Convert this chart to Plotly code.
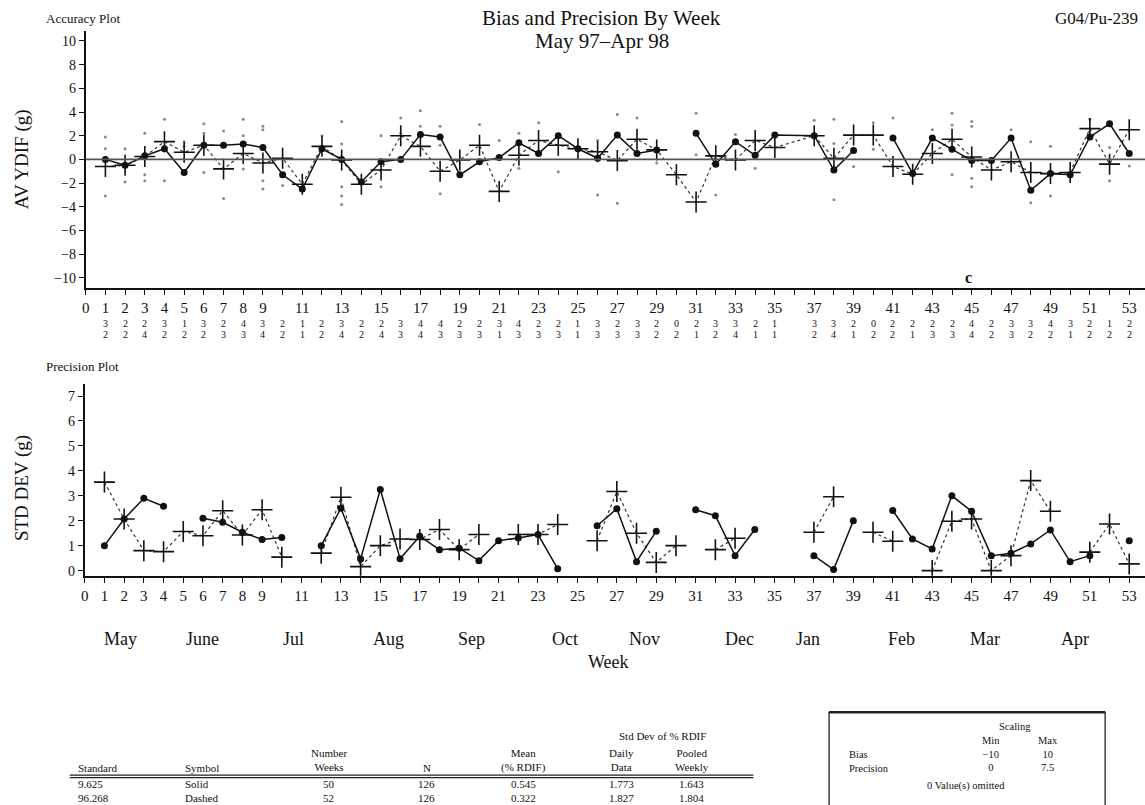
import plotly.graph_objects as go

# ---- data -------------------------------------------------------------
weeks = [w for w in range(1, 54) if w != 36]

bias_solid = [0.0, -0.5, 0.3, 0.9, -1.1, 1.2, 1.2, 1.3, 1.0, -1.3,
              -2.5, 0.9, 0.0, -1.9, -0.2, 0.0, 2.1, 1.9, -1.3, -0.2,
              0.15, 1.4, 0.5, 2.0, 0.9, 0.1, 2.05, 0.5, 0.8, None,
              2.2, -0.4, 1.5, 0.35, 2.05, 2.0, -0.9, 0.75, None, 1.8,
              -1.2, 1.8, 0.85, -0.1, -0.1, 1.8, -2.6, -1.2, -1.3, 1.9,
              3.0, 0.5]
bias_dashed = [-0.6, -0.5, 0.25, 1.5, 0.6, 1.2, -0.8, 0.5, -0.3, 0.1,
               -2.1, 1.1, -0.05, -2.1, -0.9, 2.0, 1.1, -1.0, -0.05, 1.2,
               -2.7, 0.35, 1.6, 1.2, 0.9, 0.65, -0.1, 1.7, 0.8, -1.3,
               -3.6, 0.3, -0.05, 1.6, 1.0, 2.0, 0.1, 2.05, 2.05, -0.6,
               -1.25, 0.5, 1.7, 0.2, -0.9, -0.2, -1.1, -1.2, -1.1, 2.6,
               -0.4, 2.5]

sd_solid = [1.0, 2.07, 2.9, 2.58, None, 2.1, 1.94, 1.54, 1.25, 1.33,
            None, 1.0, 2.5, 0.47, 3.25, 0.48, 1.38, 0.84, 0.9, 0.4,
            1.2, 1.31, 1.45, 0.07, None, 1.8, 2.48, 0.36, 1.58, None,
            2.44, 2.2, 0.6, 1.65, None, 0.6, 0.04, 2.0, None, 2.41,
            1.27, 0.87, 3.0, 2.38, 0.6, 0.7, 1.07, 1.63, 0.36, 0.6,
            None, 1.2]
sd_dashed = [3.55, 2.07, 0.8, 0.76, 1.57, 1.4, 2.4, 1.43, 2.44, 0.54,
             None, 0.7, 2.94, 0.16, 1.0, 1.27, 1.25, 1.65, 0.84, 1.45,
             None, 1.45, 1.45, 1.85, None, 1.2, 3.17, 1.5, 0.33, 1.0,
             None, 0.84, 1.3, None, None, 1.54, 2.96, None, 1.54, 1.18,
             None, 0.0, 1.98, 2.07, 0.0, 0.6, 3.61, 2.38, None, 0.74,
             1.87, 0.27]

# individual daily differences (week, value)
indiv_week = [1, 1, 1, 2, 2, 3, 3, 3, 4, 4, 5, 5, 6, 6, 6, 7, 7, 8, 8, 8,
              9, 9, 9, 9, 10, 12, 13, 13, 13, 13, 13, 15, 15, 16, 16, 17, 17,
              18, 18, 18, 20, 21, 22, 22, 23, 24, 26, 26, 27, 27, 28, 29,
              31, 31, 32, 33, 34, 37, 38, 38, 38, 39, 40, 40, 41, 43,
              44, 44, 44, 45, 45, 45, 45, 47, 48, 48, 49, 49, 51, 52, 52, 53]
indiv_val = [1.9, 0.9, -3.1, 0.9, -1.9, 2.2, -1.3, -1.8, 3.4, -1.8, 1.5, 1.1,
             3.0, 2.2, -1.1, 2.4, -3.3, 3.4, 2.0, -0.8,
             2.8, 2.5, -1.8, -2.5, -2.2, 2.0, 3.2, 1.3, -2.3, -3.1, -3.8,
             2.0, -2.3, 3.5, 2.2, 4.1, 2.8,
             2.8, 1.2, -2.9, 2.95, 1.6, 2.2, -0.75, 3.1, -1.05, 1.6, -3.0,
             3.8, -3.7, 3.5, -0.3,
             3.9, 0.4, -3.0, 2.1, -0.75, 3.3, 3.4, 1.35, -3.4, -0.6, 3.1, 0.85,
             3.5, 2.5,
             3.9, 2.9, -1.3, 3.2, 2.8, -1.6, -2.3, 2.5, 1.5, -3.65, 1.1, -3.1,
             3.4, 1.0, -1.8, -0.55]

# number of measurements per week (solid / dashed)
count_solid = [3, 2, 2, 3, 1, 3, 2, 4, 3, 2, 1, 2, 3, 2, 2, 3, 4, 4, 2, 2,
               3, 4, 2, 2, 1, 3, 2, 3, 2, 0, 2, 3, 3, 2, 1, 3, 3, 2, 0, 2,
               2, 2, 2, 4, 2, 3, 3, 4, 3, 2, 1, 2]
count_dashed = [2, 2, 4, 2, 2, 2, 3, 3, 4, 2, 1, 2, 4, 2, 4, 3, 4, 3, 3, 3,
                1, 3, 3, 3, 1, 3, 3, 3, 2, 2, 1, 2, 4, 1, 1, 2, 4, 1, 2, 2,
                1, 3, 3, 4, 2, 3, 2, 2, 1, 2, 2, 2]

week_ticks = list(range(0, 54))
week_labels = [str(w) if w <= 9 or w % 2 == 1 else "" for w in week_ticks]

months = ["May", "June", "Jul", "Aug", "Sep", "Oct", "Nov", "Dec",
          "Jan", "Feb", "Mar", "Apr"]
month_px = [117, 199, 291, 386, 469, 563, 643, 738, 807, 901, 984, 1075]

table_header = [["Standard"], ["Symbol"], ["Number", "Weeks"], ["N"],
                ["Mean", "(% RDIF)"], ["Daily", "Data"], ["Pooled", "Weekly"]]
table_rows = [
    ["9.625", "Solid", "50", "126", "0.545", "1.773", "1.643"],
    ["96.268", "Dashed", "52", "126", "0.322", "1.827", "1.804"],
]
scaling_labels = ["Bias", "Precision"]
scaling_min = ["\u221210", "0"]
scaling_max = ["10", "7.5"]

# ---- layout helpers ---------------------------------------------------
W, H = 1145, 805
SERIF = "Liberation Serif"
INK = "#111"


def px(x):
    return x / W


def py(y):
    return 1 - y / H


fig = go.Figure()

# accuracy plot
fig.add_trace(go.Scatter(x=indiv_week, y=indiv_val, mode="markers",
                         marker=dict(size=3, color="#8a8a8a"),
                         xaxis="x", yaxis="y", showlegend=False))
fig.add_trace(go.Scatter(x=weeks, y=bias_dashed, mode="lines+markers",
                         line=dict(color="#333", width=1.2, dash="3px,3px"),
                         marker=dict(symbol="cross-thin", size=15,
                                     line=dict(color=INK, width=1.6)),
                         connectgaps=False, xaxis="x", yaxis="y", showlegend=False))
fig.add_trace(go.Scatter(x=weeks, y=bias_solid, mode="lines+markers",
                         line=dict(color=INK, width=1.5),
                         marker=dict(symbol="circle", size=7, color=INK),
                         connectgaps=False, xaxis="x", yaxis="y", showlegend=False))

# precision plot
fig.add_trace(go.Scatter(x=weeks, y=sd_dashed, mode="lines+markers",
                         line=dict(color="#333", width=1.2, dash="3px,3px"),
                         marker=dict(symbol="cross-thin", size=15,
                                     line=dict(color=INK, width=1.6)),
                         connectgaps=False, xaxis="x2", yaxis="y2", showlegend=False))
fig.add_trace(go.Scatter(x=weeks, y=sd_solid, mode="lines+markers",
                         line=dict(color=INK, width=1.5),
                         marker=dict(symbol="circle", size=7, color=INK),
                         connectgaps=False, xaxis="x2", yaxis="y2", showlegend=False))

xaxis_common = dict(range=[0, 53.8], tickmode="array", tickvals=week_ticks,
                    ticktext=week_labels, ticks="outside", ticklen=5, tickwidth=1.3,
                    tickcolor=INK, showline=True, linecolor=INK, linewidth=2,
                    showgrid=False, zeroline=False,
                    tickfont=dict(family=SERIF, size=15, color=INK))
yaxis_common = dict(ticks="outside", ticklen=5, tickwidth=1.3, tickcolor=INK,
                    showline=True, linecolor=INK, linewidth=2, showgrid=False,
                    zeroline=False, tickfont=dict(family=SERIF, size=14, color=INK))

fig.update_layout(
    width=W, height=H, autosize=False,
    margin=dict(l=0, r=0, t=0, b=0),
    paper_bgcolor="white", plot_bgcolor="white",
    xaxis=dict(domain=[px(82), 1], anchor="y", **xaxis_common),
    yaxis=dict(domain=[py(289), py(31)], range=[-10.85, 10.85],
               tickvals=list(range(-10, 11, 2)), anchor="x", **yaxis_common),
    xaxis2=dict(domain=[px(81), 1], anchor="y2", **xaxis_common),
    yaxis2=dict(domain=[py(578), py(385)], range=[-0.21, 7.5],
                tickvals=list(range(0, 8)), anchor="x2", **yaxis_common),
)

# zero reference line in the accuracy plot
fig.add_hline(y=0, line=dict(color="#555", width=1.6), xref="x", yref="y")

ann = []


def text(x, y, s, size=13, xanchor="center", **kw):
    ann.append(dict(x=px(x), y=py(y), xref="paper", yref="paper", text=s,
                    showarrow=False, xanchor=xanchor, yanchor="middle",
                    font=dict(family=SERIF, size=size, color=INK), **kw))


def block(x, y_first, lines, size, xanchor="center"):
    # several lines in one box, the first line centred on y_first
    top = y_first - size * 0.65 - 1
    ann.append(dict(x=px(x), y=py(top), xref="paper", yref="paper",
                    text="<br>".join(lines), showarrow=False,
                    xanchor=xanchor, yanchor="top", align=xanchor if xanchor != "center" else "center",
                    font=dict(family=SERIF, size=size, color=INK)))


text(600, 18, "Bias and Precision By Week", size=21)
text(600, 41, "May 97\u2013Apr 98", size=21)
text(1140, 19, "G04/Pu-239", size=17, xanchor="right")
text(40, 19, "Accuracy Plot", size=13, xanchor="left")
text(18, 160, "AV YDIF (g)", size=19, textangle=-90)
text(40, 368, "Precision Plot", size=13, xanchor="left")
text(18, 490, "STD DEV (g)", size=19, textangle=-90)
text(607, 664, "Week", size=18)

ann.append(dict(x=44.85, y=-10.0, xref="x", yref="y", text="<b>c</b>", showarrow=False,
                font=dict(family=SERIF, size=16, color=INK)))

# weekly measurement counts under the accuracy plot
for w, a, b in zip(weeks, count_solid, count_dashed):
    for val, yy in ((a, 325), (b, 336)):
        ann.append(dict(x=w, y=py(yy), xref="x", yref="paper", text=str(val),
                        showarrow=False, font=dict(family=SERIF, size=10, color=INK)))

for m, mx in zip(months, month_px):
    text(mx, 641, m, size=18)

# summary table
TS = 11
col_x = [72, 180, 326, 424, 521, 620, 690]
text(661, 738.5, "Std Dev of % RDIF", size=TS)
for i, head in enumerate(table_header):
    anchor = "left" if i < 2 else "center"
    first = 770.5 - (len(head) - 1) * TS * 1.3
    block(col_x[i], first, head, TS, anchor)
    block(col_x[i], 787, [row[i] for row in table_rows], TS, anchor)

# scaling box
SS = 10.5
text(1015, 729, "Scaling", size=SS)
block(990, 744, ["Min"] + scaling_min, SS)
block(1048, 744, ["Max"] + scaling_max, SS)
block(846, 744 + SS * 1.3, scaling_labels, SS, "left")
text(965, 789, "0 Value(s) omitted", size=SS)

fig.update_layout(annotations=ann)

shapes = list(fig.layout.shapes)
shapes += [
    dict(type="line", xref="paper", yref="paper", x0=px(66), x1=px(752),
         y0=py(778), y1=py(778), line=dict(color="#222", width=1.2)),
    dict(type="line", xref="paper", yref="paper", x0=px(66), x1=px(752),
         y0=py(780.5), y1=py(780.5), line=dict(color="#222", width=1.2)),
    dict(type="rect", xref="paper", yref="paper", x0=px(828), x1=px(1105),
         y0=py(812), y1=py(715), line=dict(color="#222", width=1.3)),
    dict(type="line", xref="paper", yref="paper", x0=px(828), x1=px(1105),
         y0=py(715), y1=py(715), line=dict(color="#222", width=2.5)),
]
fig.update_layout(shapes=shapes)

fig.write_html("out.html")
